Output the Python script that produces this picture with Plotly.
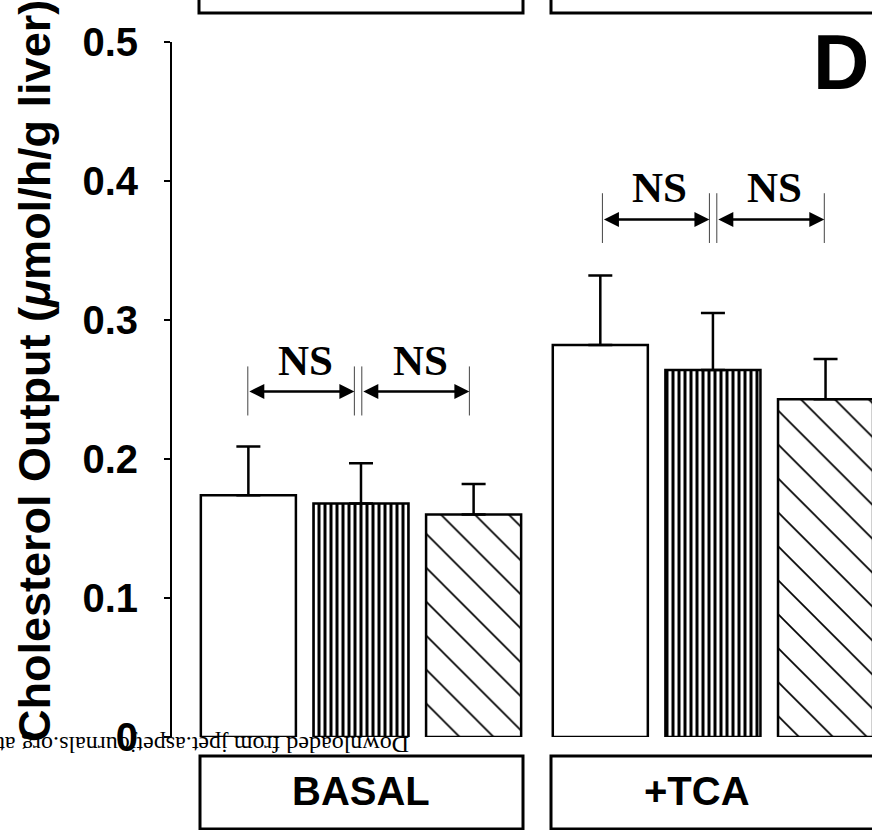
import plotly.graph_objects as go

# ---- data ----
groups = ["BASAL", "+TCA"]
series_names = ["Group 1", "Group 2", "Group 3"]
means_1 = [0.174, 0.282]
means_2 = [0.168, 0.264]
means_3 = [0.160, 0.243]
err_1 = [0.035, 0.050]
err_2 = [0.029, 0.041]
err_3 = [0.022, 0.029]
y_ticks = [0, 0.1, 0.2, 0.3, 0.4, 0.5]
y_ticktext = ["0", "0.1", "0.2", "0.3", "0.4", "0.5"]
sig_label = "NS"
panel_label = "D"
y_title = "Cholesterol Output (<i>μ</i>mol/h/g liver)"
watermark = "Downloaded from jpet.aspetjournals.org at"

W, H = 872, 830
ML, MR, MT, MB = 172, 0, 42, 93
PW, PH = W - ML - MR, H - MT - MB


def px(x):
    return (x - ML) / PW


def py(y):
    return (H - MB - y) / PH


SANS = "Liberation Sans, Arial, sans-serif"
SERIF = "Liberation Serif, Times New Roman, serif"

fig = go.Figure()
styles = [
    dict(color="white"),
    dict(color="white", pattern=dict(shape="|", fgcolor="black", fgopacity=1, bgcolor="white",
                                     size=6, solidity=0.5)),
    dict(color="white", pattern=dict(shape="\\", fgcolor="black", fgopacity=1, bgcolor="white",
                                     size=24, solidity=0.07)),
]
for name, m, e, st in zip(series_names, [means_1, means_2, means_3], [err_1, err_2, err_3], styles):
    fig.add_trace(go.Bar(
        x=groups, y=m, name=name,
        marker=dict(**st, line=dict(color="black", width=2.5)),
        error_y=dict(type="data", array=e, arrayminus=[0] * len(e), symmetric=False,
                     color="black", thickness=2.5, width=12),
    ))

annotations = []
shapes = []

# NS comparison brackets (offsets relative to group index)
ns_sets = [
    (0, [-0.3216, -0.0188, 0.0023, 0.308], 0.2486, (0.2313, 0.2666), 0.271, [-0.159, 0.168]),
    (1, [-0.314, -0.010, 0.011, 0.3165], 0.3723, (0.3554, 0.3912), 0.3955, [-0.151, 0.176]),
]
for gi, ticks, ay, (t0, t1), ty, tx in ns_sets:
    for t in ticks:
        shapes.append(dict(type="line", xref="x", yref="y", x0=gi + t, x1=gi + t, y0=t0, y1=t1,
                           line=dict(color="#444", width=1)))
    for a, b, cx in [(ticks[0], ticks[1], tx[0]), (ticks[2], ticks[3], tx[1])]:
        annotations.append(dict(x=gi + b, y=ay, ax=gi + a, ay=ay, xref="x", yref="y", axref="x", ayref="y",
                                text="", showarrow=True, arrowhead=2, arrowside="end+start",
                                arrowsize=1.2, arrowwidth=2.5, arrowcolor="black",
                                standoff=0, startstandoff=0))
        annotations.append(dict(x=gi + cx, y=ty, xref="x", yref="y", text=sig_label, showarrow=False,
                                font=dict(family=SERIF, size=43, color="black", weight="bold"),
                                xanchor="center", yanchor="middle"))

# group label boxes (bottom) and cut-off boxes (top)
for x0, x1 in [(200, 523), (551, 880)]:
    shapes.append(dict(type="rect", xref="paper", yref="paper", x0=px(x0), x1=px(x1), y0=py(829), y1=py(756),
                       line=dict(color="black", width=3)))
for x0, x1 in [(199, 523), (551, 880)]:
    shapes.append(dict(type="rect", xref="paper", yref="paper", x0=px(x0), x1=px(x1), y0=py(13), y1=py(-20),
                       line=dict(color="black", width=3)))
for g, cx in zip(groups, [361, 697]):
    annotations.append(dict(x=px(cx), y=py(791), xref="paper", yref="paper", text=g, showarrow=False,
                            font=dict(family=SANS, size=40, color="black", weight="bold"),
                            xanchor="center", yanchor="middle"))

# panel letter
annotations.append(dict(x=px(841), y=py(62), xref="paper", yref="paper", text=panel_label, showarrow=False,
                        font=dict(family=SANS, size=78, color="black", weight="bold"),
                        xanchor="center", yanchor="middle"))
# y-axis title
annotations.append(dict(x=px(34), y=py(371), xref="paper", yref="paper", text=y_title, showarrow=False,
                        textangle=-90, font=dict(family=SANS, size=45, color="black", weight="bold"),
                        xanchor="center", yanchor="middle"))
# upside-down watermark
annotations.append(dict(x=px(204), y=py(745), xref="paper", yref="paper", text=watermark, showarrow=False,
                        textangle=180, font=dict(family=SERIF, size=24, color="black"),
                        xanchor="center", yanchor="middle"))

fig.update_layout(
    width=W, height=H,
    margin=dict(l=ML, r=MR, t=MT, b=MB, pad=0),
    paper_bgcolor="white", plot_bgcolor="white",
    barmode="group", bargap=0.04, bargroupgap=0.156,
    showlegend=False,
    annotations=annotations, shapes=shapes,
    xaxis=dict(range=[-0.537, 1.452], showticklabels=False, showline=False, showgrid=False,
               zeroline=False, ticks=""),
    yaxis=dict(range=[0, 0.5], tickvals=y_ticks, ticktext=y_ticktext, showline=True, linecolor="black",
               linewidth=2, ticks="outside", ticklen=6, tickwidth=2, tickcolor="black",
               showgrid=False, zeroline=False, ticklabelstandoff=18,
               tickfont=dict(family=SANS, size=40, color="black", weight="bold")),
)

fig.write_html("out.html", config={"displayModeBar": False},
               post_script="document.body.style.margin='0px';")
